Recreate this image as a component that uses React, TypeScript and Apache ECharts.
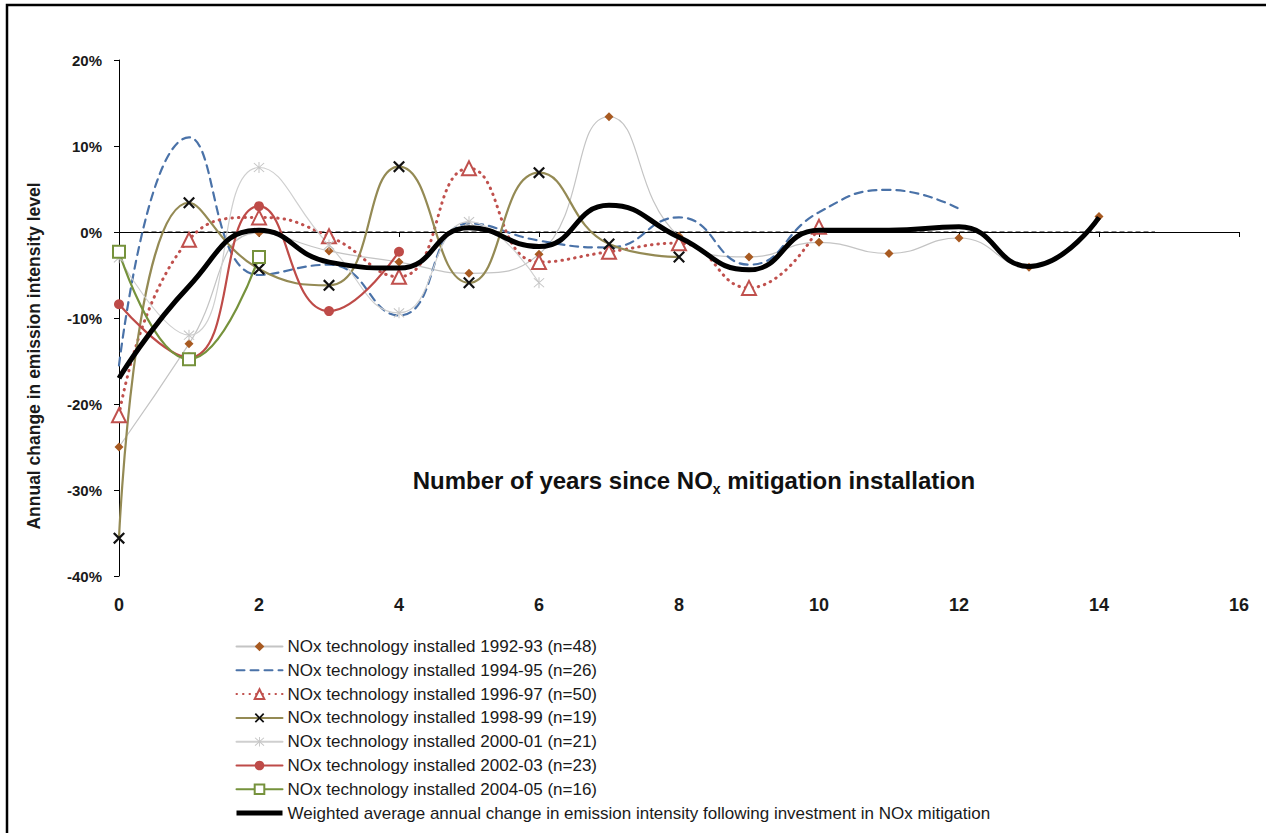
import { useRef, useEffect } from "react";
import * as echarts from "echarts";

const years = [0, 1, 2, 3, 4, 5, 6, 7, 8, 9, 10, 11, 12, 13, 14];

const seriesNames = [
  "NOx technology installed 1992-93 (n=48)",
  "NOx technology installed 1994-95 (n=26)",
  "NOx technology installed 1996-97 (n=50)",
  "NOx technology installed 1998-99 (n=19)",
  "NOx technology installed 2000-01 (n=21)",
  "NOx technology installed 2002-03 (n=23)",
  "NOx technology installed 2004-05 (n=16)",
  "Weighted average annual change in emission intensity following investment in NOx mitigation",
];

// annual change in %, by years since installation
const v9293 = [-25.0, -13.0, -0.1, -2.2, -3.5, -4.8, -2.6, 13.4, -0.5, -2.9, -1.2, -2.5, -0.7, -4.1, 1.8];
const v9495 = [-15.5, 11.0, -5.0, -3.8, -9.7, 1.0, -1.0, -1.8, 1.7, -3.8, 2.3, 4.9, 2.7];
const v9697 = [-21.3, -0.9, 1.7, -0.5, -5.2, 7.4, -3.5, -2.3, -1.3, -6.5, 0.6];
const v9899 = [-35.6, 3.4, -4.3, -6.2, 7.6, -5.9, 6.9, -1.4, -2.9];
const v0001 = [-3.0, -12.0, 7.5, -1.5, -9.4, 1.2, -5.9];
const v0203 = [-8.4, -14.6, 3.0, -9.2, -2.3];
const v0405 = [-2.3, -14.8, -2.9];
const weighted = [-17.0, -6.3, 0.2, -3.5, -4.2, 0.5, -1.7, 3.1, -0.6, -4.4, 0.2, 0.2, 0.6, -4.0, 1.7];

const zeroLineX = [0.35, 14.8];
const yTicks = { min: -40, max: 20, step: 10 };
const xTicks = { min: 0, max: 16, step: 2 };
const yTitle = "Annual change in emission intensity level";

const pair = (vals: number[]) => vals.map((v, i) => [years[i], v]);

const xMark =
  "path://M0,1.3L1.3,0L5,3.7L8.7,0L10,1.3L6.3,5L10,8.7L8.7,10L5,6.3L1.3,10L0,8.7L3.7,5Z";
const starMark =
  "path://M4.6,0L5.4,0L5.4,10L4.6,10Z M0.6,1.2L1.2,0.6L9.4,8.8L8.8,9.4Z M9.4,1.2L8.8,0.6L0.6,8.8L1.2,9.4Z";

const FONT = "'Liberation Sans', Arial, sans-serif";
const hidden = { color: "rgba(0,0,0,0)", borderColor: "rgba(0,0,0,0)", borderWidth: 0 };

export default function App() {
  const chartRef = useRef<HTMLDivElement>(null);

  useEffect(() => {
    if (!chartRef.current) return;
    document.body.style.margin = "0";
    const chart = echarts.init(chartRef.current, undefined, { renderer: "svg" });

    const line = (
      name: string,
      data: number[],
      color: string,
      width: number,
      type: any,
      symbol: string,
      symbolSize: number,
      markColor: string,
      markFill?: string,
    ) => ({
      name,
      type: "line",
      data: pair(data),
      smooth: 0.5,
      symbol,
      symbolSize,
      showSymbol: symbol !== "none",
      lineStyle: { color, width, type, cap: "round" },
      itemStyle: {
        color: markFill ?? markColor,
        borderColor: markColor,
        borderWidth: markFill ? 2 : 0,
      },
      emphasis: { disabled: true },
      z: 3,
    });

    const option: any = {
      animation: false,
      backgroundColor: "#fff",
      textStyle: { fontFamily: FONT },
      grid: { left: 119, right: 27, top: 60, bottom: 257 },
      xAxis: {
        type: "value",
        min: xTicks.min,
        max: xTicks.max,
        interval: xTicks.step,
        axisLine: { lineStyle: { color: "#000", width: 1 } },
        axisTick: { show: true, length: 5, lineStyle: { color: "#000" } },
        axisLabel: {
          margin: 20,
          fontSize: 18,
          fontWeight: "bold",
          color: "#1a1a1a",
          fontFamily: FONT,
        },
        splitLine: { show: false },
      },
      yAxis: {
        type: "value",
        min: yTicks.min,
        max: yTicks.max,
        interval: yTicks.step,
        axisLine: { show: true, lineStyle: { color: "#000", width: 1 } },
        axisTick: { show: true, length: 5, lineStyle: { color: "#000" } },
        axisLabel: {
          margin: 17,
          fontSize: 15,
          fontWeight: "bold",
          color: "#1a1a1a",
          fontFamily: FONT,
          formatter: (v: number) => `${v}%`,
        },
        splitLine: { show: false },
      },
      legend: {
        data: seriesNames.map((name, i) => {
          if (i === 1) return { name, itemStyle: hidden };
          if (i === 7) return { name, itemStyle: hidden, lineStyle: { width: 5, color: "#000" } };
          return { name };
        }),
        orient: "vertical",
        left: 234,
        top: 638,
        padding: 0,
        itemWidth: 46,
        itemHeight: 12,
        itemGap: 6.8,
        textStyle: { fontSize: 17, color: "#1a1a1a", fontFamily: FONT },
        selectedMode: false,
      },
      graphic: [
        {
          type: "rect",
          shape: { x: 7, y: 5, width: 1400, height: 1000 },
          style: { fill: "none", stroke: "#000", lineWidth: 2.5 },
          silent: true,
        },
        {
          type: "text",
          x: 34,
          y: 356,
          rotation: Math.PI / 2,
          style: {
            text: yTitle,
            align: "center",
            verticalAlign: "middle",
            fontSize: 17.5,
            fontWeight: "bold",
            fontFamily: FONT,
            fill: "#1a1a1a",
          },
          silent: true,
        },
        {
          type: "text",
          x: 694,
          y: 480,
          style: {
            text: "{a|Number of years since NO}{s|x}{a| mitigation installation}",
            align: "center",
            verticalAlign: "middle",
            rich: {
              a: {
                fontSize: 24,
                fontWeight: "bold",
                fontFamily: FONT,
                fill: "#111",
                lineHeight: 32,
              },
              s: {
                fontSize: 14,
                fontWeight: "bold",
                fontFamily: FONT,
                fill: "#111",
                lineHeight: 15,
                verticalAlign: "bottom",
              },
            },
          },
          silent: true,
        },
      ],
      series: [
        {
          name: "zero",
          type: "line",
          data: zeroLineX.map((x) => [x, 0]),
          symbol: "none",
          lineStyle: { color: "#000", width: 1, type: [5, 3] },
          emphasis: { disabled: true },
          z: 1,
        },
        line(seriesNames[0], v9293, "#c4c4c4", 1.2, "solid", "diamond", 9, "#a85a21"),
        line(seriesNames[1], v9495, "#4a72a8", 2.2, [8, 6], "none", 0, "#4a72a8"),
        line(seriesNames[2], v9697, "#c0504d", 3, [0.5, 6], "triangle", 14, "#c0504d", "#fff"),
        line(seriesNames[3], v9899, "#948a54", 2.2, "solid", xMark, 12, "#111"),
        line(seriesNames[4], v0001, "#cfcfcf", 1.2, "solid", starMark, 11, "#c4c4c4"),
        line(seriesNames[5], v0203, "#be4b48", 2.2, "solid", "circle", 10, "#be4b48"),
        line(seriesNames[6], v0405, "#76923c", 2.2, "solid", "rect", 12, "#76923c", "#fff"),
        {
          name: seriesNames[7],
          type: "line",
          data: pair(weighted),
          smooth: 0.5,
          symbol: "none",
          lineStyle: { color: "#000", width: 5 },
          itemStyle: { color: "#000" },
          emphasis: { disabled: true },
          z: 4,
        },
      ],
    };

    chart.setOption(option);

    return () => {
      chart.dispose();
    };
  }, []);

  return <div ref={chartRef} style={{ width: "1266px", height: "833px" }} />;
}
